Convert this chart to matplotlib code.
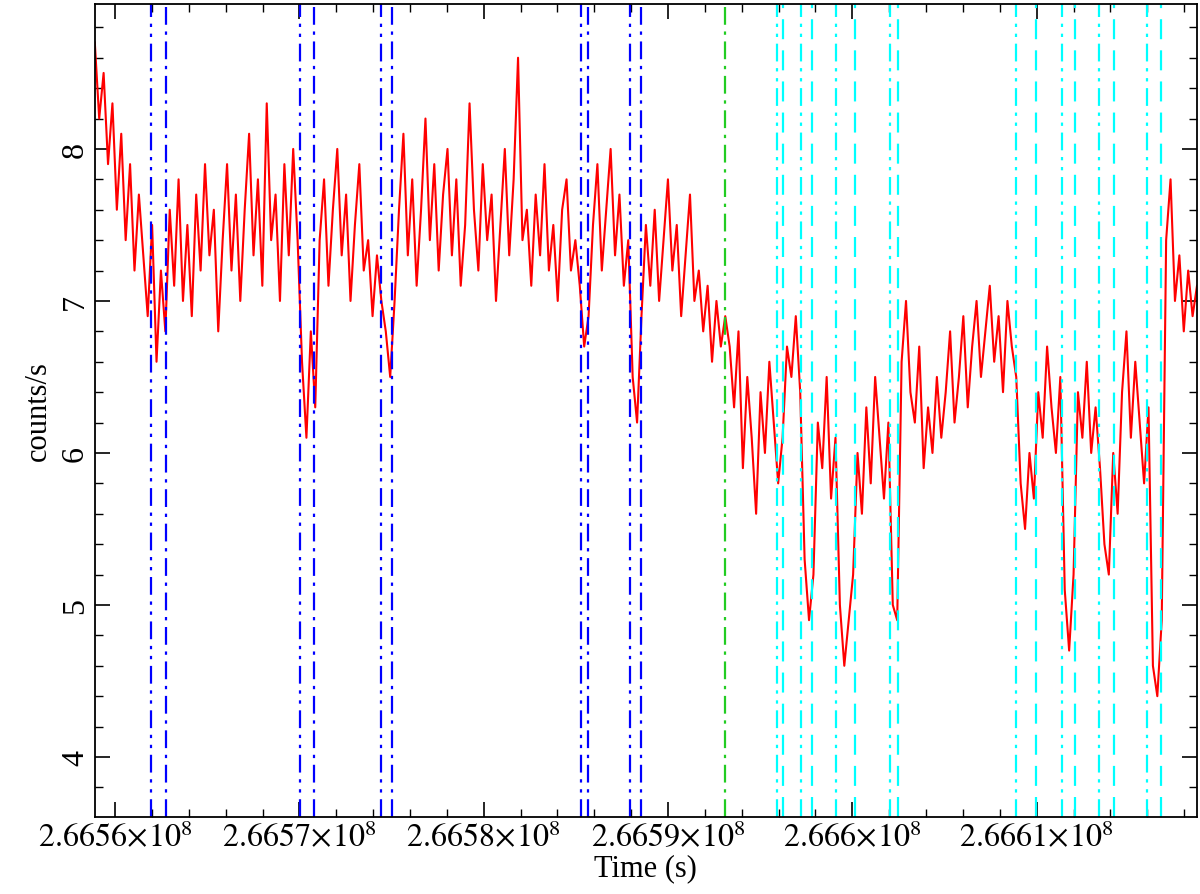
import numpy as np
import matplotlib
matplotlib.use("Agg")
import matplotlib.pyplot as plt
from matplotlib.ticker import FuncFormatter, MultipleLocator

plt.rcParams["font.family"] = ["Liberation Serif", "DejaVu Serif"]
plt.rcParams["mathtext.fontset"] = "stix"

# ── data ─────────────────────────────────────────────
t_start, t_end = 2.665589e8, 2.666187e8
rate = [
    8.7, 8.2, 8.5, 7.9, 8.3, 7.6, 8.1, 7.4, 7.9, 7.2, 7.7, 7.3,
    6.9, 7.5, 6.6, 7.2, 6.8,
    7.6, 7.1, 7.8, 7.0, 7.5, 6.9, 7.7, 7.2, 7.9, 7.3, 7.6, 6.8, 7.4, 7.9, 7.2,
    7.7, 7.0, 7.6, 8.1, 7.3, 7.8, 7.1, 8.3, 7.4, 7.7, 7.0, 7.9, 7.3, 8.0, 7.4,
    6.6, 6.1, 6.8, 6.3,
    7.4, 7.8, 7.1, 7.6, 8.0, 7.3, 7.7, 7.0, 7.5, 7.9, 7.2, 7.4, 6.9, 7.3, 7.0,
    6.8, 6.5, 7.0,
    7.6, 8.1, 7.3, 7.8, 7.1, 7.6, 8.2, 7.4, 7.9, 7.2, 7.7, 8.0, 7.3, 7.8, 7.1,
    7.5, 8.3, 7.6, 7.2, 7.9, 7.4, 7.7, 7.0, 7.5, 8.0, 7.3, 7.8, 8.6, 7.4, 7.6,
    7.1, 7.7, 7.3, 7.9, 7.2, 7.5, 7.0, 7.6, 7.8, 7.2, 7.4, 7.1,
    6.7, 6.9,
    7.5, 7.9, 7.2, 7.6, 8.0, 7.3, 7.7, 7.1, 7.4,
    6.5, 6.2, 6.9,
    7.5, 7.1, 7.6, 7.0, 7.4, 7.8, 7.2, 7.5, 6.9, 7.3, 7.7, 7.0, 7.2, 6.8, 7.1,
    6.6, 7.0, 6.7, 6.9,
    6.7, 6.3, 6.8, 5.9, 6.5, 6.1, 5.6, 6.4, 6.0, 6.6, 6.2,
    5.8, 6.1,
    6.7, 6.5, 6.9, 6.4,
    5.3, 4.9, 5.2,
    6.2, 5.9, 6.5, 5.7, 6.1,
    5.0, 4.6, 4.9, 5.2,
    6.0, 5.6, 6.3, 5.8, 6.5, 6.1, 5.7, 6.2,
    5.0, 4.9,
    6.6, 7.0, 6.4, 6.2, 6.7, 5.9, 6.3, 6.0, 6.5, 6.1, 6.4, 6.8, 6.2, 6.5, 6.9,
    6.3, 6.7, 7.0, 6.5, 6.8, 7.1, 6.6, 6.9, 6.4, 7.0, 6.7, 6.5,
    5.8, 5.5, 6.0, 5.7,
    6.4, 6.1, 6.7, 6.3, 6.0, 6.5,
    5.1, 4.7, 5.2,
    6.4, 6.1, 6.6, 6.0, 6.3, 5.9,
    5.4, 5.2, 6.0, 5.6,
    6.4, 6.8, 6.1, 6.6, 6.2, 5.8, 6.3,
    4.6, 4.4, 4.9,
    7.4, 7.8, 7.0, 7.3, 6.8, 7.2, 6.9, 7.1,
]
time = np.linspace(t_start, t_end, len(rate))

t_ref = 2.66560e8
blue_lines = [t_ref + d for d in [1927, 2758, 10027, 10777, 14430, 15011,
                                  25271, 25684, 27932, 28513]]
green_lines = [t_ref + 33078]
cyan_lines = [t_ref + d for d in [35906, 36238, 37231, 37812, 39104, 40141, 42052, 42465,
                                  48866, 49984, 51352, 52058, 53393, 54180, 56010, 56754]]

# ── plot ─────────────────────────────────────────────
fig, ax = plt.subplots(figsize=(12, 8.95), dpi=100)
fig.subplots_adjust(left=0.079, right=0.9975, top=0.9945, bottom=0.086)

ax.plot(time, rate, color="red", lw=1.5)

ls_a = (0, (8, 3, 1.5, 3, 1.5, 3))
ls_b = (0, (8, 3, 1.5, 3))
for i, x in enumerate(blue_lines):
    ax.axvline(x, color="blue", lw=1.6, ls=ls_a if i % 2 == 0 else ls_b)
for x in green_lines:
    ax.axvline(x, color="#22cc22", lw=1.6, ls=ls_b)
for i, x in enumerate(cyan_lines):
    ax.axvline(x, color="cyan", lw=1.6, ls=ls_a if i % 2 == 0 else (0, (9, 5)))

ax.set_xlim(t_start, t_end)
ax.set_ylim(3.605, 8.954)
ax.xaxis.set_major_locator(MultipleLocator(1e4))
ax.xaxis.set_minor_locator(MultipleLocator(2e3))
ax.yaxis.set_major_locator(MultipleLocator(1))
ax.yaxis.set_minor_locator(MultipleLocator(0.2))


def fmt(v, p):
    s = ("%.4f" % (v / 1e8)).rstrip("0")
    return r"$%s\!\times\!10^{8}$" % s


ax.xaxis.set_major_formatter(FuncFormatter(fmt))
ax.tick_params(which="both", direction="in", top=True, right=True, labelsize=23)
ax.tick_params(which="major", length=11, width=1.2)
ax.tick_params(which="minor", length=6, width=1)
for lab in ax.get_yticklabels():
    lab.set_rotation(90)
    lab.set_va("center")
for s in ax.spines.values():
    s.set_linewidth(1.3)

ax.set_xlabel("Time (s)", fontsize=22, labelpad=0)
ax.set_ylabel("counts/s", fontsize=22, labelpad=6)

plt.savefig("out.png", dpi=100)
